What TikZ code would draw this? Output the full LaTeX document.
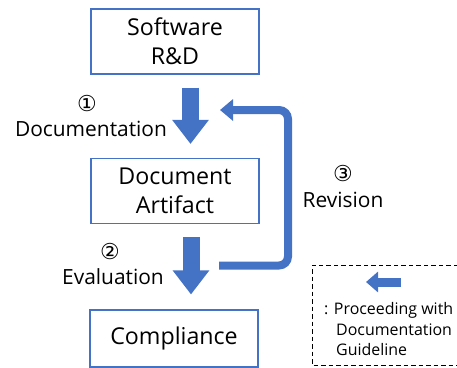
\documentclass[tikz,border=0pt]{standalone}
\usepackage{fontspec}
\setmainfont{Open Sans}
\newfontfamily\circfont{DejaVu Sans}
\usetikzlibrary{arrows.meta}
\definecolor{flowblue}{HTML}{4472C4}
\tikzset{
  stage/.style={draw=flowblue, line width=1.1bp, minimum width=168bp, minimum height=65bp,
    align=center, font=\fontsize{23.3}{29}\selectfont, inner sep=0pt},
  fat/.style={flowblue, line width=17bp, -{Triangle[length=24bp, width=35bp]}},
  loopback/.style={flowblue, line width=8bp, rounded corners=9bp, -{Triangle[length=13bp, width=21bp]}},
  lbl/.style={font=\fontsize{21}{24}\selectfont, inner sep=0pt},
  num/.style={font=\circfont\fontsize{22}{24}\selectfont, inner sep=0pt},
  legtext/.style={font=\fontsize{16}{19}\selectfont, inner sep=0pt, anchor=west},
}
\begin{document}
\begin{tikzpicture}[x=1bp, y=-1bp]
  \useasboundingbox (0,0) rectangle (457,367);
  % process stages
  \node[stage] (rd) at (175,41.5) {Software\\R\&D};
  \node[stage] (art) at (175,191) {Document\\Artifact};
  \node[stage, minimum height=57bp] (comp) at (174,338.5) {Compliance};
  % forward steps
  \draw[fat] ([yshift=-13bp]rd.south -| 190.5,0) -- ([yshift=14bp]art.north -| 190.5,0);
  \draw[fat] ([yshift=-13bp]art.south -| 191,0) -- ([yshift=15bp]comp.north -| 191,0);
  % revision loop
  \coordinate (revstart) at (219,265.5);
  \coordinate (revend) at (220,110);
  \draw[loopback] (revstart) -- (288,265.5) -- (288,110) -- (revend);
  % step labels
  \node[num] (n1) at (87,104) {①};
  \node[lbl] (l1) at (91,129) {Documentation};
  \node[num] (n2) at (110,252) {②};
  \node[lbl] (l2) at (113,277) {Evaluation};
  \node[num] (n3) at (343,174) {③};
  \node[lbl] (l3) at (343,200) {Revision};
  % legend
  \draw[dash pattern=on 4.5bp off 3bp, line width=0.9bp] (458,265) -- (312,265) -- (312,365) -- (458,365);
  \coordinate (legtail) at (401,282);
  \coordinate (leghead) at (366,282);
  \draw[flowblue, line width=9bp, -{Triangle[length=12bp, width=20bp]}] (legtail) -- (leghead);
  \node[legtext] (g1) at (324,310) {: Proceeding with};
  \node[legtext] (g2) at (336,330) {Documentation};
  \node[legtext] (g3) at (336,350) {Guideline};
\end{tikzpicture}
\end{document}
